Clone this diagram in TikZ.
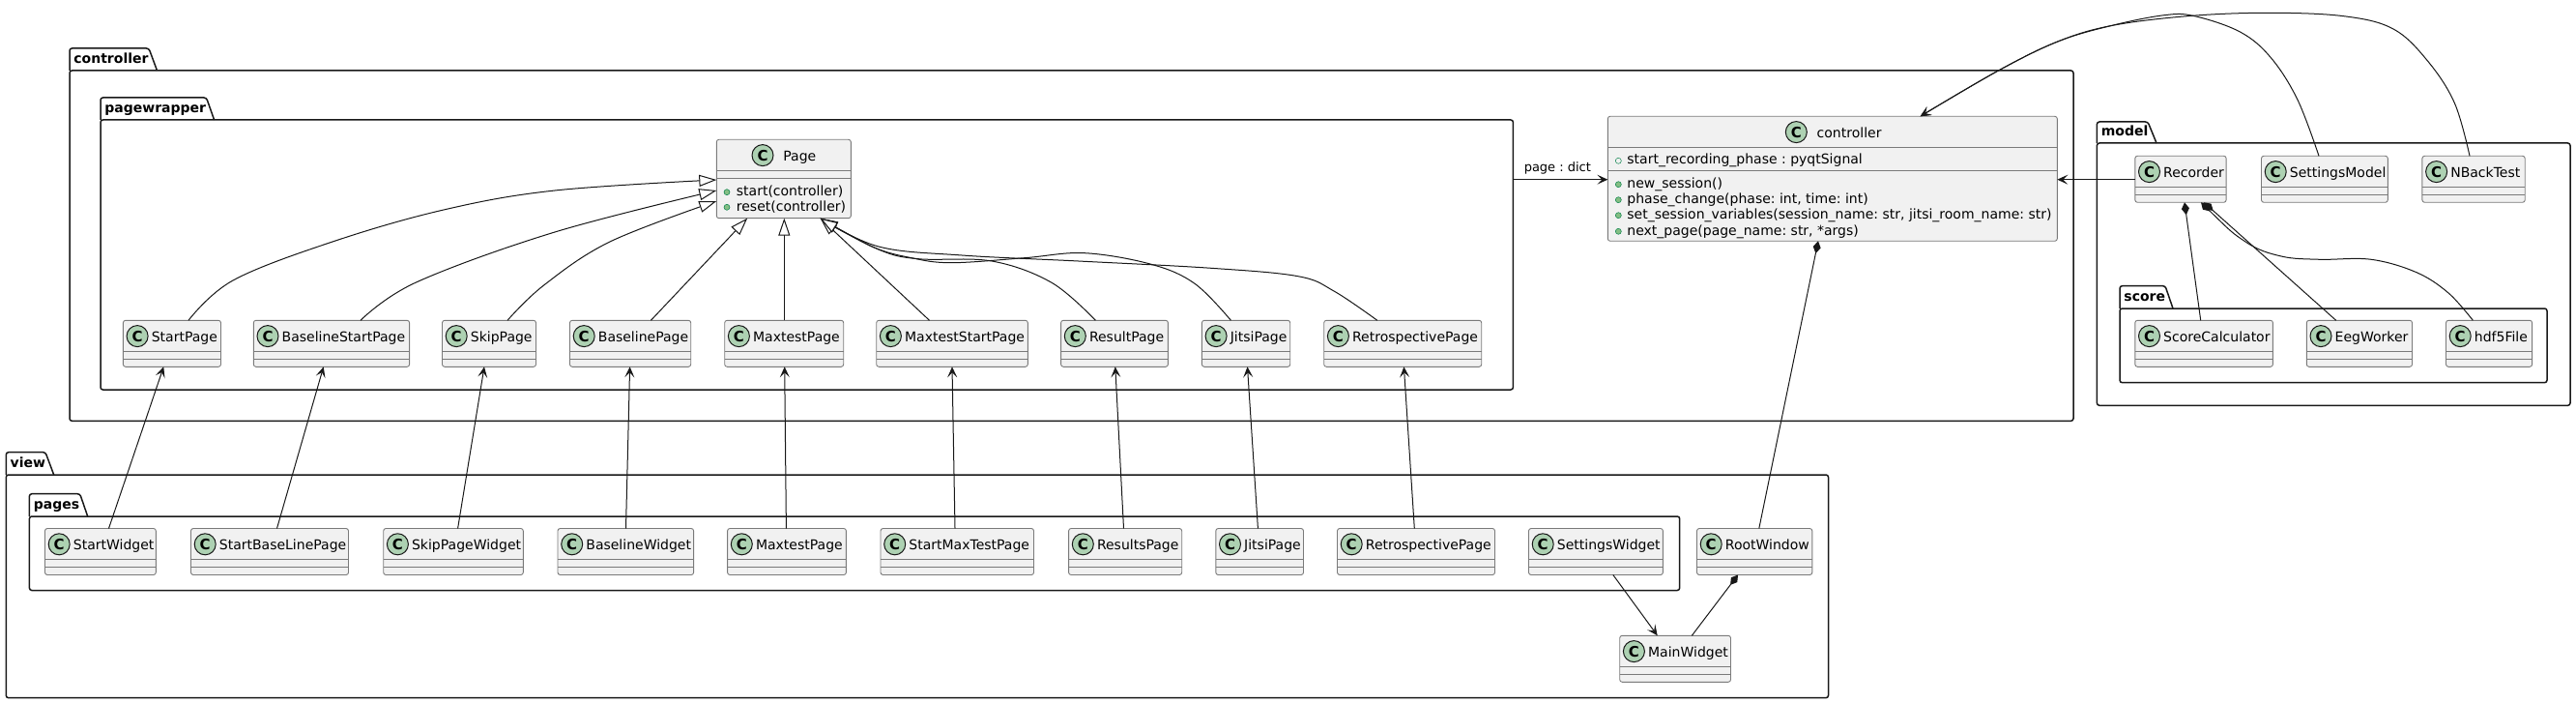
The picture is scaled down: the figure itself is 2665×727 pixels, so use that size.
\documentclass[tikz,border=0pt]{standalone}
\usepackage{fontspec}
\setmainfont{DejaVu Sans}
\usetikzlibrary{arrows.meta, fit, shapes.geometric}
\frenchspacing

\definecolor{umlline}{HTML}{181818}
\definecolor{umlborder}{HTML}{7A7A7A}
\definecolor{umlfill}{HTML}{F1F1F1}
\definecolor{umlicon}{HTML}{ADD1B2}
\definecolor{dotfill}{HTML}{84BE84}
\definecolor{dotline}{HTML}{038048}

% name, label, x1, x2, tab top, head, bottom, tab top right, tab bottom right
\newcommand{\umlpackage}[9]{%
  \node[pkgbody, fit={(#3,#6) (#4,#7)}] (#1) {};
  \draw[pkgtab] (#3,#6) -- (#3,#5) -- (#8,#5) -- (#9,#6);
  \node[pkgname] (#1-name) at (#3+4,#6-7.3) {#2};
}
% name, x1, x2, top, bottom, second line
\newcommand{\umlbox}[6]{%
  \node[classbody, fit={(#2,#4) (#3,#5)}] (#1) {};
  \draw[classline] (#1.west |- 0,#4+32) -- (#1.east |- 0,#4+32);
  \draw[classline] (#1.west |- 0,#4+#6) -- (#1.east |- 0,#4+#6);
}
% name, icon x, text x, top, title
\newcommand{\umltitle}[5]{%
  \node[classicon] (#1-icon) at (#2,#4+16.3) {C};
  \node[classname] (#1-name) at (#3,#4+22) {#5};
}
% name, title, x1, x2, top
\newcommand{\umlclass}[5]{%
  \umlbox{#1}{#3}{#4}{#5}{#5+48}{40}
  \umltitle{#1}{#3+14.7}{#3+29}{#5}{#2}
}
% name, dot style, dot x, text x, dot y, baseline, text
\newcommand{\umlmember}[7]{%
  \node[#2] (#1-dot) at (#3,#5) {};
  \node[classname] (#1-text) at (#4,#6) {#7};
}

\begin{document}
\begin{tikzpicture}[x=0.5pt,y=-0.5pt]
\tikzstyle{pkgbody}=[draw=umlline, line width=0.75pt, rounded corners=1.25pt, inner sep=0pt, outer sep=0pt]
\tikzstyle{pkgtab}=[draw=umlline, line width=0.75pt, rounded corners=1.25pt]
\tikzstyle{pkgname}=[anchor=base west, inner sep=0pt, text=black, font=\fontsize{7}{8}\selectfont\bfseries]
\tikzstyle{classbody}=[draw=umlborder, line width=0.45pt, fill=umlfill, rounded corners=1.25pt, inner sep=0pt, outer sep=0pt]
\tikzstyle{classline}=[draw=umlborder, line width=0.45pt]
\tikzstyle{classname}=[anchor=base west, inner sep=0pt, text=black, font=\fontsize{7}{8}\selectfont]
\tikzstyle{classicon}=[circle, draw=umlline, line width=0.5pt, fill=umlicon, minimum size=11pt, inner sep=0pt, font=\fontsize{7.5}{8}\selectfont\bfseries]
\tikzstyle{pubdot}=[circle, draw=dotline, line width=0.25pt, fill=dotfill, minimum size=3pt, inner sep=0pt]
\tikzstyle{fielddot}=[circle, draw=dotline, line width=0.25pt, minimum size=3pt, inner sep=0pt]
\tikzstyle{assoc}=[draw=umlline, line width=0.5pt, -{Stealth[length=5.5pt,width=5pt,inset=2.5pt]}]
\tikzstyle{inherit}=[draw=umlline, line width=0.5pt, -{Triangle[open,length=9pt,width=6pt,fill=white]}]
\tikzstyle{compose}=[draw=umlline, line width=0.5pt, {Diamond[length=6.5pt,width=4pt]}-]
\tikzstyle{edgelabel}=[above, inner sep=2.3pt, xshift=-1.5pt, text=black, font=\fontsize{6.5}{8}\selectfont]

\useasboundingbox (0,0) rectangle (2665,727);

% packages
\umlpackage{pkgController}{controller}{72}{2145}{50}{73}{435.3}{154}{162.5}
\umlpackage{pkgPagewrapper}{pagewrapper}{104}{1565.4}{101}{124}{403}{213.5}{221.6}
\umlpackage{pkgModel}{model}{2169.4}{2659}{126}{148}{419.3}{2222}{2231}
\umlpackage{pkgScore}{score}{2193}{2635}{295.7}{319}{395.7}{2240}{2248}
\umlpackage{pkgView}{view}{6.3}{1891.5}{467.7}{491}{721.7}{47}{55.7}
\umlpackage{pkgPages}{pages}{30.4}{1737.7}{510.7}{534}{610.5}{82.7}{90.7}

% controller classes
\umlbox{cPage}{741.3}{880.3}{144.3}{225.7}{40}
\umltitle{cPage}{789}{810}{144.3}{Page}
\umlmember{cPageStart}{pubdot}{752}{761.5}{198.7}{202.3}{start(controller)}
\umlmember{cPageReset}{pubdot}{752}{761.5}{214.3}{218.3}{reset(controller)}
\umlclass{cStartPage}{StartPage}{127.4}{228.5}{331.3}
\umlclass{cBaselineStartPage}{BaselineStartPage}{262.3}{423.6}{331.3}
\umlclass{cSkipPage}{SkipPage}{457.5}{554.5}{331.3}
\umlclass{cBaselinePage}{BaselinePage}{589.5}{714.7}{331.3}
\umlclass{cMaxtestPage}{MaxtestPage}{749.7}{872.7}{331.3}
\umlclass{cMaxtestStartPage}{MaxtestStartPage}{906.7}{1063.3}{331.3}
\umlclass{cResultPage}{ResultPage}{1097.6}{1208.4}{331.3}
\umlclass{cJitsiPage}{JitsiPage}{1243.4}{1334.7}{331.3}
\umlclass{cRetrospectivePage}{RetrospectivePage}{1369.7}{1532.7}{331.3}

\umlbox{ctrl}{1663.3}{2128.3}{120.3}{249.3}{56}
\umltitle{ctrl}{1858.3}{1879.3}{120.3}{controller}
\umlmember{ctrlPhase}{fielddot}{1674.3}{1683}{166.3}{169.3}{start\_recording\_phase : pyqtSignal}
\umlmember{ctrlNew}{pubdot}{1674.3}{1683}{190.7}{194.3}{new\_session()}
\umlmember{ctrlChange}{pubdot}{1674.3}{1683}{206.7}{210.3}{phase\_change(phase: int, time: int)}
\umlmember{ctrlVars}{pubdot}{1674.3}{1683}{222.7}{226.3}{set\_session\_variables(session\_name: str, jitsi\_room\_name: str)}
\umlmember{ctrlNext}{pubdot}{1674.3}{1683}{239.3}{243}{next\_page(page\_name: str, *args)}

% model classes
\umlclass{mRecorder}{Recorder}{2208.8}{2303.1}{161.3}
\umlclass{mSettingsModel}{SettingsModel}{2339.5}{2470.3}{161.3}
\umlclass{mNBackTest}{NBackTest}{2505.9}{2612.2}{161.3}
\umlclass{mScoreCalculator}{ScoreCalculator}{2208.8}{2351.4}{331.3}
\umlclass{mEegWorker}{EegWorker}{2386.3}{2495.5}{331.3}
\umlclass{mHdfFile}{hdf5File}{2530.5}{2619.6}{331.3}

% view classes
\umlclass{vStartWidget}{StartWidget}{46.5}{161.3}{546.5}
\umlclass{vStartBaseLinePage}{StartBaseLinePage}{197.5}{360.5}{546.5}
\umlclass{vSkipPageWidget}{SkipPageWidget}{396.7}{541.3}{546.5}
\umlclass{vBaselineWidget}{BaselineWidget}{577}{717.6}{546.5}
\umlclass{vMaxtestPage}{MaxtestPage}{752.6}{875.4}{546.5}
\umlclass{vStartMaxTestPage}{StartMaxTestPage}{911}{1069.5}{546.5}
\umlclass{vResultsPage}{ResultsPage}{1105.6}{1222.7}{546.5}
\umlclass{vJitsiPage}{JitsiPage}{1257.8}{1348.5}{546.5}
\umlclass{vRetrospectivePage}{RetrospectivePage}{1383.5}{1546.5}{546.5}
\umlclass{vSettingsWidget}{SettingsWidget}{1581.5}{1720.4}{546.5}
\umlclass{vRootWindow}{RootWindow}{1755.5}{1874.8}{546.5}
\umlclass{vMainWidget}{MainWidget}{1675.7}{1790.5}{657.3}

% inheritance
\draw[inherit] plot[smooth, tension=0.6] coordinates {(cStartPage.north -| 195,0) (241,290) (344,250) (459,217) (574,197) (cPage.west |- 0,186)};
\draw[inherit] plot[smooth, tension=0.6] coordinates {(cBaselineStartPage.north -| 373,0) (430.5,292) (574,240) (cPage.west |- 0,197)};
\draw[inherit] plot[smooth, tension=0.6] coordinates {(cSkipPage.north -| 525,0) (562.6,295) (631,250) (cPage.west |- 0,208)};
\draw[inherit] (cBaselinePage.north -| 673.4,0) -- (cPage.south -| 773.2,0);
\draw[inherit] (cMaxtestPage.north -| 811.3,0) -- (cPage.south -| 811.3,0);
\draw[inherit] (cMaxtestStartPage.north -| 961.5,0) -- (cPage.south -| 848.6,0);
\draw[inherit] plot[smooth, tension=0.6] coordinates {(cResultPage.north -| 1133.4,0) (1088,292.3) (1026,270) (950,267.7) (909,258) (cPage.south -| 848.6,0)};
\draw[inherit] plot[smooth, tension=0.6] coordinates {(cJitsiPage.north -| 1273.4,0) (1236,293.3) (1191,273.3) (1122,261.7) (1060,266.7) (984.6,271.7) (943,266.7) (902,255) (cPage.south -| 848.6,0)};
\draw[inherit] plot[smooth, tension=0.6] coordinates {(cRetrospectivePage.north -| 1424.8,0) (1380,301) (1342.8,285.7) (1253,277.3) (1115.5,270) (995,264) (909,255) (cPage.south -| 848.6,0)};

% view to controller
\draw[assoc] (vStartWidget.north -| 112.5,0) -- (cStartPage.south -| 169.3,0);
\draw[assoc] (vStartBaseLinePage.north -| 286.5,0) -- (cBaselineStartPage.south -| 334.7,0);
\draw[assoc] (vSkipPageWidget.north -| 473.6,0) -- (cSkipPage.south -| 501,0);
\draw[assoc] (vBaselineWidget.north -| 647.5,0) -- (cBaselinePage.south -| 651.6,0);
\draw[assoc] (vMaxtestPage.north -| 813.4,0) -- (cMaxtestPage.south -| 811.7,0);
\draw[assoc] (vStartMaxTestPage.north -| 988,0) -- (cMaxtestStartPage.south -| 985,0);
\draw[assoc] (vResultsPage.north -| 1162.5,0) -- (cResultPage.south -| 1153.8,0);
\draw[assoc] (vJitsiPage.north -| 1301.4,0) -- (cJitsiPage.south -| 1290.5,0);
\draw[assoc] (vRetrospectivePage.north -| 1463.3,0) -- (cRetrospectivePage.south -| 1452.4,0);

% wiring
\draw[assoc] (pkgPagewrapper.east |- 0,185.7) -- node[edgelabel] (lblPageDict) {page : dict} (ctrl.west |- 0,185.7);
\draw[assoc] (mRecorder.west |- 0,185.7) -- (ctrl.east |- 0,185.7);
\draw[assoc] plot[smooth, tension=0.6] coordinates {(mSettingsModel.north -| 2399,0) (2377,103.3) (2349.6,60) (2318,33.3) (2270.5,16.7) (2239,15.7) (2183.5,26.7) (2128,43.3) (2066.9,73.3) (ctrl.north -| 1986.6,0)};
\draw[assoc] plot[smooth, tension=0.6] coordinates {(mNBackTest.north -| 2555,0) (2539.4,106.7) (2511.7,63.3) (2476,30) (2424.7,16.7) (2345.6,13.3) (2262.6,16.7) (2183.5,26.7) (2128,43.3) (2066.9,73.3) (ctrl.north -| 1986.6,0)};
\draw[compose] (mRecorder.south -| 2260,0) -- (mScoreCalculator.north -| 2276.7,0);
\draw[compose] (mRecorder.south -| 2280,0) -- (mEegWorker.north -| 2416.7,0);
\draw[compose] plot[smooth, tension=0.6] coordinates {(mRecorder.south -| 2277,0) (2323,250) (2360,265) (2400,268.3) (2453,268.3) (2500,281.7) (2533,303) (mHdfFile.north -| 2558.3,0)};
\draw[compose] (ctrl.south -| 1881,0) -- (vRootWindow.north -| 1819.8,0);
\draw[compose] (vRootWindow.south -| 1798,0) -- (vMainWidget.north -| 1750.3,0);
\draw[assoc] (vSettingsWidget.south -| 1668.8,0) -- (vMainWidget.north -| 1714.7,0);
\end{tikzpicture}
\end{document}
